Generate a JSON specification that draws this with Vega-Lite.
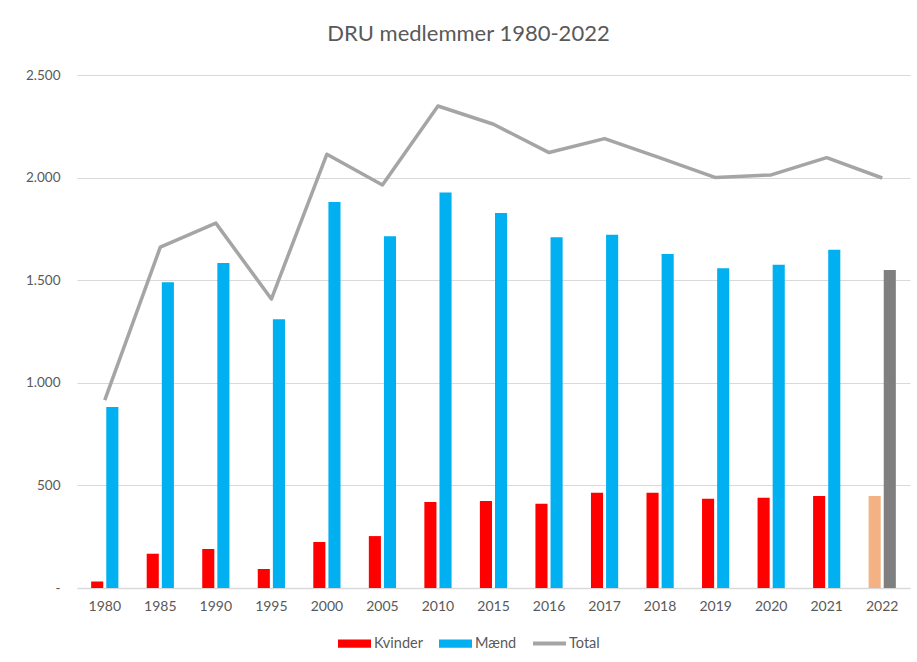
{
  "$schema": "https://vega.github.io/schema/vega-lite/v6.json",
  "width": 833,
  "height": 513,
  "autosize": {"type": "none"},
  "padding": {"left": 77, "top": 75, "right": 7, "bottom": 74},
  "background": "white",
  "config": {"view": {"stroke": null}, "font": "Lato"},
  "title": {"text": "DRU medlemmer 1980-2022", "anchor": "middle", "frame": "group", "dx": -25, "offset": 22, "fontSize": 22, "font": "Lato", "fontWeight": "normal", "color": "#595959"},
  "data": {
    "values": [
      {"year": "1980", "Kvinder": 32, "Mænd": 882, "Total": 916},
      {"year": "1985", "Kvinder": 167, "Mænd": 1490, "Total": 1661},
      {"year": "1990", "Kvinder": 190, "Mænd": 1584, "Total": 1778},
      {"year": "1995", "Kvinder": 92, "Mænd": 1310, "Total": 1408},
      {"year": "2000", "Kvinder": 224, "Mænd": 1881, "Total": 2114},
      {"year": "2005", "Kvinder": 253, "Mænd": 1714, "Total": 1964},
      {"year": "2010", "Kvinder": 419, "Mænd": 1927, "Total": 2349},
      {"year": "2015", "Kvinder": 424, "Mænd": 1828, "Total": 2260},
      {"year": "2016", "Kvinder": 411, "Mænd": 1709, "Total": 2122},
      {"year": "2017", "Kvinder": 464, "Mænd": 1722, "Total": 2190},
      {"year": "2018", "Kvinder": 464, "Mænd": 1628, "Total": 2096},
      {"year": "2019", "Kvinder": 435, "Mænd": 1558, "Total": 2000},
      {"year": "2020", "Kvinder": 440, "Mænd": 1575, "Total": 2013},
      {"year": "2021", "Kvinder": 448, "Mænd": 1648, "Total": 2097},
      {"year": "2022", "Kvinder": 448, "Mænd": 1550, "Total": 1998}
    ]
  },
  "encoding": {
    "x": {
      "field": "year", "type": "nominal", "sort": null,
      "scale": {"paddingInner": 0.51, "paddingOuter": 0.255},
      "axis": {"title": null, "labelAngle": 0, "ticks": false, "domain": true, "domainColor": "#D9D9D9", "domainWidth": 1.5, "grid": false, "labelColor": "#595959", "labelFont": "Lato", "labelFontSize": 14, "labelPadding": 11}
    }
  },
  "layer": [
    {
      "transform": [{"fold": ["Kvinder", "Mænd"], "as": ["serie", "antal"]}],
      "mark": {"type": "bar"},
      "encoding": {
        "xOffset": {"field": "serie", "type": "nominal", "scale": {"domain": ["Kvinder", "Mænd"], "paddingInner": 0.2, "paddingOuter": 0}},
        "y": {
          "field": "antal", "type": "quantitative",
          "scale": {"domain": [0, 2500], "nice": false},
          "axis": {"title": null, "values": [0, 500, 1000, 1500, 2000, 2500], "labelExpr": "datum.value===0 ? '-\u00a0\u00a0\u00a0' : replace(format(datum.value, ','), ',', '.')", "domain": false, "ticks": false, "gridColor": "#D9D9D9", "gridWidth": 1.2, "labelColor": "#595959", "labelFont": "Lato", "labelFontSize": 13.5, "labelPadding": 17}
        },
        "color": {
          "condition": [
            {"test": "datum.year === '2022' && datum.serie === 'Kvinder'", "value": "#F4B183"},
            {"test": "datum.year === '2022' && datum.serie === 'Mænd'", "value": "#7F7F7F"}
          ],
          "field": "serie", "type": "nominal",
          "scale": {"domain": ["Kvinder", "Mænd", "Total"], "range": ["#FF0000", "#00B0F0", "#A5A5A5"]},
          "legend": {
            "title": null, "orient": "none", "direction": "horizontal", "legendX": 261, "legendY": 552,
            "symbolSize": 1089, "labelOffset": 3, "columnPadding": 16,
            "labelFont": "Lato", "labelFontSize": 14.5, "labelColor": "#595959",
            "encode": {
              "symbols": {
                "update": {
                  "shape": {"signal": "datum.value === 'Total' ? 'M-1,-0.12H1V0.12H-1Z' : 'M-1,-0.25H1V0.25H-1Z'"},
                  "fill": {"signal": "scale('color', datum.value)"},
                  "fillOpacity": {"value": 1},
                  "strokeWidth": {"value": 0}
                }
              }
            }
          }
        }
      }
    },
    {
      "mark": {"type": "line", "strokeWidth": 3.5, "strokeJoin": "round"},
      "encoding": {
        "y": {"field": "Total", "type": "quantitative", "scale": {"domain": [0, 2500], "nice": false}},
        "color": {"datum": "Total", "type": "nominal"}
      }
    }
  ]
}
